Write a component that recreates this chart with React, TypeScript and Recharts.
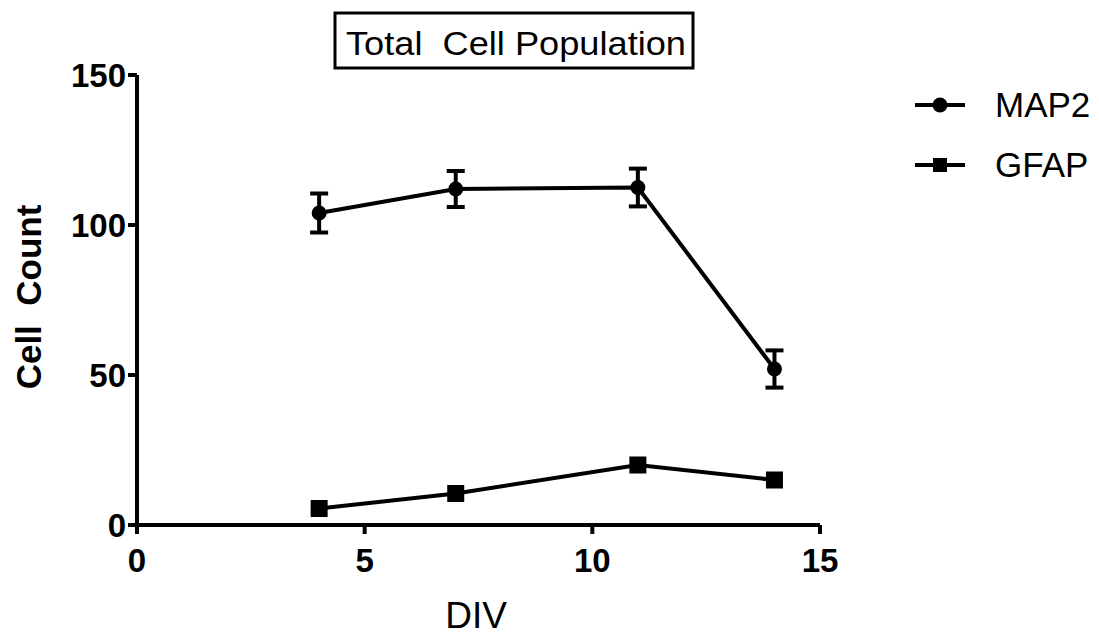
import React from 'react';
import {
  LineChart,
  Line,
  XAxis,
  YAxis,
  ErrorBar,
  Customized,
} from 'recharts';

const divDays = [4, 7, 11, 14];
const map2Counts = [104, 112, 112.5, 52];
const map2Errors = [6.5, 6, 6.3, 6.2];
const gfapCounts = [5.5, 10.5, 20, 15];

const xTicks = [0, 5, 10, 15];
const yTicks = [0, 50, 100, 150];

const data = divDays.map((d, i) => ({
  div: d,
  map2: map2Counts[i],
  map2Err: map2Errors[i],
  gfap: gfapCounts[i],
}));

const FONT = '"Liberation Sans", Arial, sans-serif';

const SquareDot = (props: any) => {
  const { cx, cy } = props;
  if (cx == null || cy == null) return null;
  return <rect x={cx - 8.5} y={cy - 8.5} width={17} height={17} fill="#000" />;
};

// title box, axis titles and legend, in svg coordinates
const Decorations = () => (
  <g fontFamily={FONT} fill="#000">
    <rect x={327} y={5} width={358} height={55} fill="none" stroke="#000" strokeWidth={3} />
    <text
      x={508}
      y={47}
      textAnchor="middle"
      fontSize={33}
      textLength={340}
      lengthAdjust="spacingAndGlyphs"
      style={{ whiteSpace: 'pre' }}
    >
      Total  Cell Population
    </text>
    <text
      x={0}
      y={0}
      transform="translate(33, 289) rotate(-90)"
      textAnchor="middle"
      fontSize={35}
      fontWeight="bold"
      style={{ whiteSpace: 'pre' }}
    >
      Cell  Count
    </text>
    <text x={468} y={620} textAnchor="middle" fontSize={37}>
      DIV
    </text>

    <line x1={907} y1={97} x2={957} y2={97} stroke="#000" strokeWidth={4} />
    <circle cx={932} cy={97} r={7.5} fill="#000" />
    <text x={987} y={109} fontSize={35}>MAP2</text>
    <line x1={907} y1={157} x2={957} y2={157} stroke="#000" strokeWidth={4} />
    <rect x={925} y={150} width={14} height={14} fill="#000" />
    <text x={987} y={169} fontSize={35}>GFAP</text>
  </g>
);

export default function App() {
  return (
    <LineChart
      width={1091}
      height={629}
      data={data}
      margin={{ top: 67, right: 279, left: 49, bottom: 52 }}
      style={{ fontFamily: FONT }}
    >
      <XAxis
        dataKey="div"
        type="number"
        domain={[0, 15]}
        ticks={xTicks}
        stroke="#000"
        strokeWidth={4}
        tickSize={9}
        tickMargin={15}
        height={60}
        tick={{ fontSize: 33, fontWeight: 'bold', fill: '#000' }}
      />
      <YAxis
        type="number"
        domain={[0, 150]}
        ticks={yTicks}
        stroke="#000"
        strokeWidth={4}
        tickSize={9}
        width={80}
        tick={{ fontSize: 33, fontWeight: 'bold', fill: '#000' }}
      />
      <Line
        dataKey="map2"
        stroke="#000"
        strokeWidth={4}
        dot={{ r: 7.5, fill: '#000', stroke: '#000', strokeWidth: 0 }}
        isAnimationActive={false}
      >
        <ErrorBar dataKey="map2Err" width={9} stroke="#000" strokeWidth={4} direction="y" />
      </Line>
      <Line
        dataKey="gfap"
        stroke="#000"
        strokeWidth={4}
        dot={<SquareDot />}
        isAnimationActive={false}
      />
      <Customized component={Decorations} />
    </LineChart>
  );
}
